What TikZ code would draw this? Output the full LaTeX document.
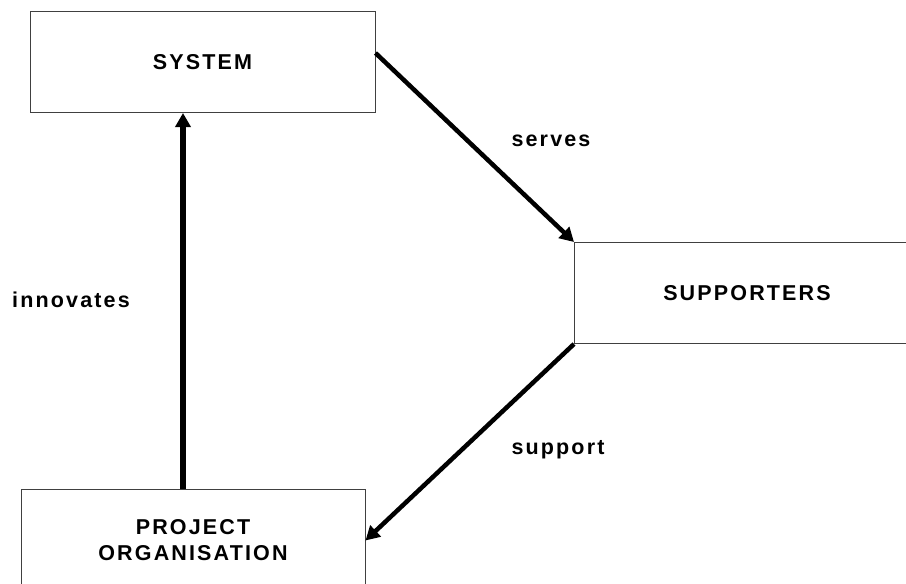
\documentclass[tikz,border=0pt]{standalone}
\usepackage{fontspec}
\setmainfont{Liberation Sans}[LetterSpace=10]
\usetikzlibrary{arrows.meta}
\begin{document}
\begin{tikzpicture}[x=1pt,y=-1pt,
  box/.style={draw=black!75,line width=1pt,minimum width=345pt,minimum height=101pt,inner sep=0pt,align=center,font=\fontsize{21.5}{26}\selectfont\bfseries},
  lbl/.style={font=\fontsize{21.5}{24}\selectfont\bfseries,inner sep=0pt},
  arr/.style={line width=4.5pt,-{Triangle[length=14pt,width=15pt]}}]
\useasboundingbox (0,0) rectangle (906,584);
\clip (0,0) rectangle (906,584);
\node[box] (sys) at (202.5,62) {SYSTEM};
\node[box] (sup) at (747,293) {SUPPORTERS};
\node[box,minimum width=344pt,minimum height=103pt] (proj) at (193,540.5) {PROJECT\\ORGANISATION};
\draw[arr] ([yshift=9pt]sys.east) -- (sup.north west);
\draw[arr] (sup.south west) -- (proj.east);
\draw[arr,line width=5.5pt] ([xshift=-10pt]proj.north) -- ([xshift=-10pt]proj.north |- sys.south);
\node[lbl] (lserves) at (551,141) {serves};
\node[lbl] (lsupport) at (558,450) {support};
\node[lbl] (linnov) at (71,300) {innovates};
\end{tikzpicture}
\end{document}
